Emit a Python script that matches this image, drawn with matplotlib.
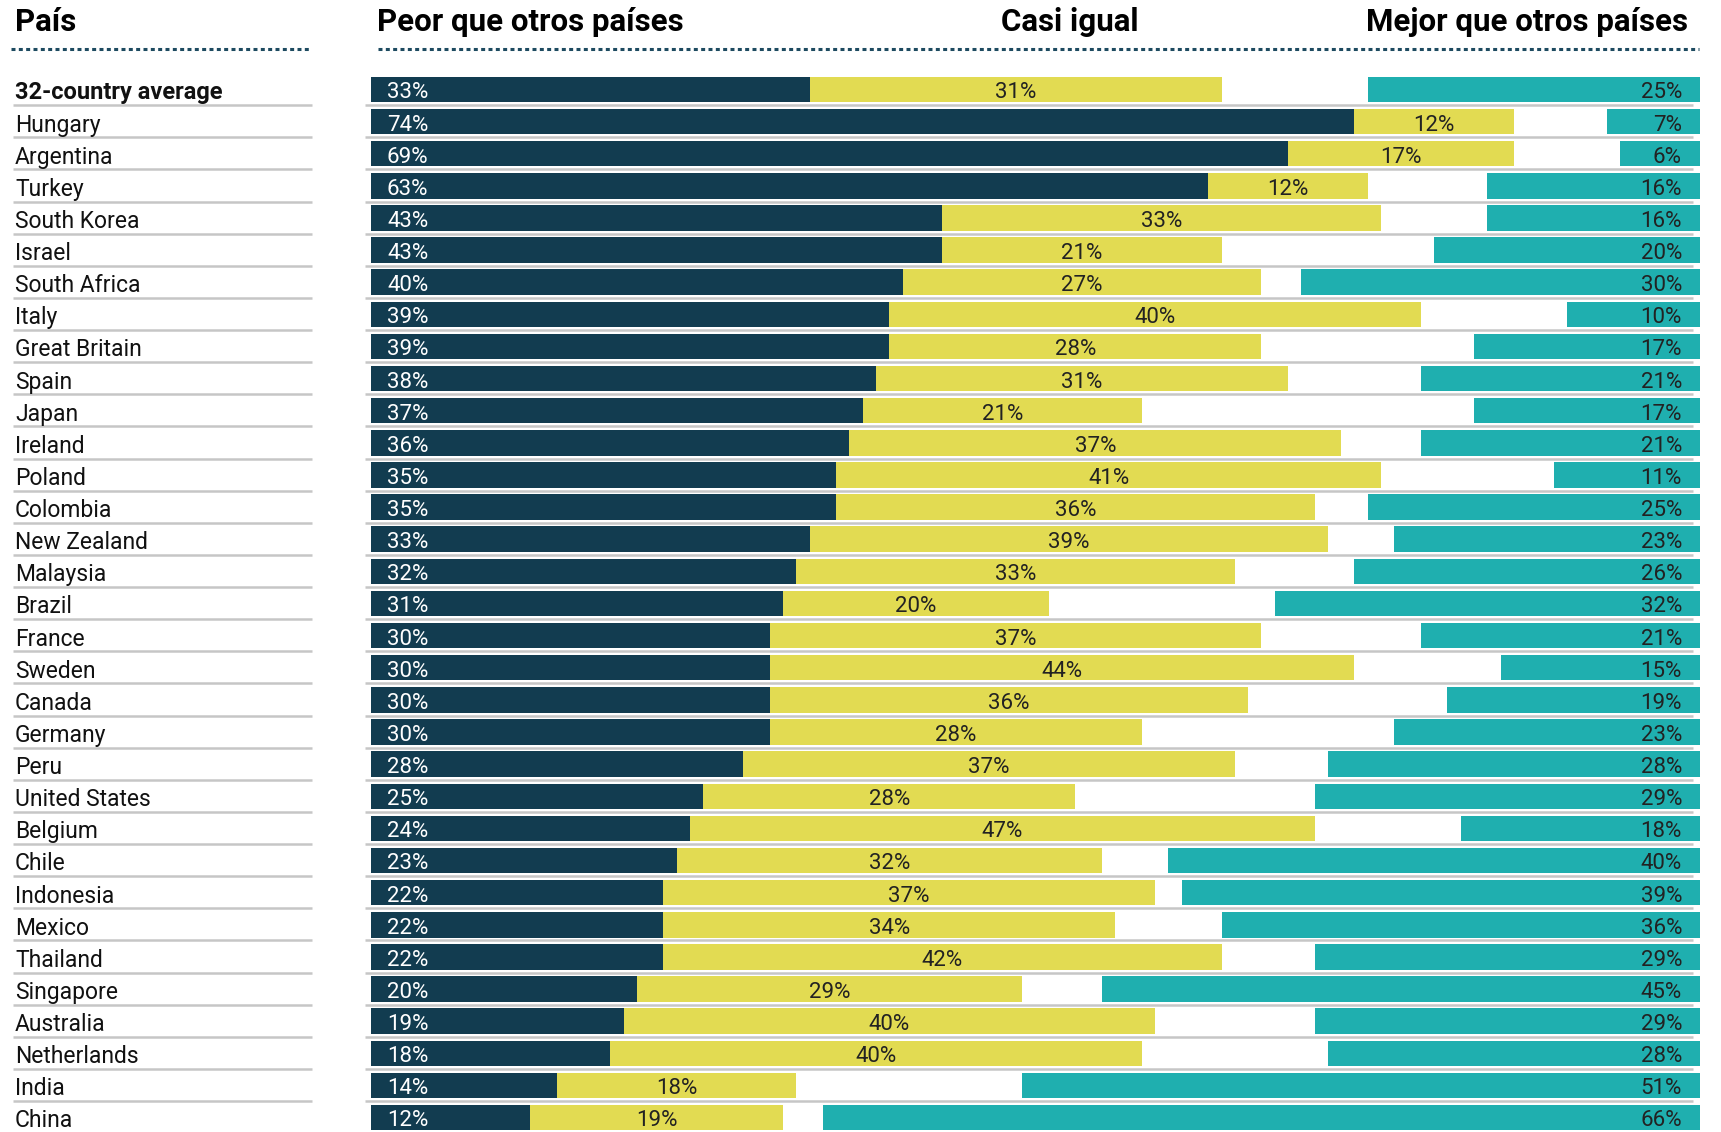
import matplotlib
matplotlib.use("Agg")
import matplotlib.pyplot as plt
from matplotlib import font_manager

# Datos
paises = ["32-country average", "Hungary", "Argentina", "Turkey", "South Korea", "Israel",
          "South Africa", "Italy", "Great Britain", "Spain", "Japan", "Ireland", "Poland",
          "Colombia", "New Zealand", "Malaysia", "Brazil", "France", "Sweden", "Canada",
          "Germany", "Peru", "United States", "Belgium", "Chile", "Indonesia", "Mexico",
          "Thailand", "Singapore", "Australia", "Netherlands", "India", "China"]
peor = [33, 74, 69, 63, 43, 43, 40, 39, 39, 38, 37, 36, 35, 35, 33, 32, 31, 30, 30, 30,
        30, 28, 25, 24, 23, 22, 22, 22, 20, 19, 18, 14, 12]
igual = [31, 12, 17, 12, 33, 21, 27, 40, 28, 31, 21, 37, 41, 36, 39, 33, 20, 37, 44, 36,
         28, 37, 28, 47, 32, 37, 34, 42, 29, 40, 40, 18, 19]
mejor = [25, 7, 6, 16, 16, 20, 30, 10, 17, 21, 17, 21, 11, 25, 23, 26, 32, 21, 15, 19,
         23, 28, 29, 18, 40, 39, 36, 29, 45, 29, 28, 51, 66]
encabezados = ["País", "Peor que otros países", "Casi igual", "Mejor que otros países"]

# Colores
OSCURO = "#123c50"
AMARILLO = "#e2db52"
TURQUESA = "#1fafaf"
GRIS = "#c6c6c6"
TEXTO = "#222222"

# Fuente
disponibles = {f.name for f in font_manager.fontManager.ttflist}
fuente = "Roboto" if "Roboto" in disponibles else "DejaVu Sans"
plt.rcParams["font.family"] = [fuente, "DejaVu Sans"]

W, H = 1721, 1132
x0, x1 = 371, 1700          # pixeles de 0% y 100%
fila0, paso = 89.5, 32.125  # centro de la primera fila y separación


def px_x(p):
    return (p - x0) / (x1 - x0) * 100


def px_y(p):
    return (p - fila0) / paso


fig = plt.figure(figsize=(W / 100, H / 100), dpi=100)
ax = fig.add_axes([0, 0, 1, 1])
ax.set_xlim(px_x(0), px_x(W))
ax.set_ylim(px_y(H), px_y(0))
ax.axis("off")

filas = list(range(len(paises)))
resto = [100 - m for m in mejor]
alto = 25.5 / paso

# líneas grises entre filas
ax.hlines([i + 0.49 for i in filas[:-1]], px_x(13), px_x(312), color=GRIS, lw=1.8)
ax.hlines([i + 0.49 for i in filas[:-1]], px_x(365), px_x(1693), color=GRIS, lw=1.8)

ax.barh(filas, peor, height=alto, left=0, color=OSCURO)
ax.barh(filas, igual, height=alto, left=peor, color=AMARILLO)
ax.barh(filas, mejor, height=alto, left=resto, color=TURQUESA)

for i in filas:
    if i == 0:
        ax.text(px_x(15), i + 0.31, paises[i], ha="left", va="baseline", fontsize=17,
                color="#111111", fontweight="bold")
    else:
        ax.text(px_x(15), i + 0.31, paises[i], ha="left", va="baseline", fontsize=16.5,
                color="#111111")
    ax.text(px_x(387), i + 0.28, f"{peor[i]}%", ha="left", va="baseline",
            fontsize=16, color="white")
    ax.text(peor[i] + igual[i] / 2, i + 0.28, f"{igual[i]}%", ha="center", va="baseline",
            fontsize=16, color=TEXTO)
    ax.text(px_x(1682), i + 0.28, f"{mejor[i]}%", ha="right", va="baseline",
            fontsize=16, color=TEXTO)

# encabezados
yh = px_y(31)
ax.text(px_x(15), yh, encabezados[0], ha="left", va="baseline", fontsize=22.5, fontweight="bold")
ax.text(px_x(377), yh, encabezados[1], ha="left", va="baseline", fontsize=22.5, fontweight="bold")
ax.text(px_x(1070), yh, encabezados[2], ha="center", va="baseline", fontsize=22.5, fontweight="bold")
ax.text(px_x(1688), yh, encabezados[3], ha="right", va="baseline", fontsize=22.5, fontweight="bold")

# líneas punteadas
punteado = (0, (1.3, 1.1))
ax.plot([px_x(11), px_x(310)], [px_y(49)] * 2, ls=punteado, lw=2.2, color="#1d4a60")
ax.plot([px_x(378), px_x(1699)], [px_y(49)] * 2, ls=punteado, lw=2.2, color="#1d4a60")

fig.savefig("out.png", dpi=100)
